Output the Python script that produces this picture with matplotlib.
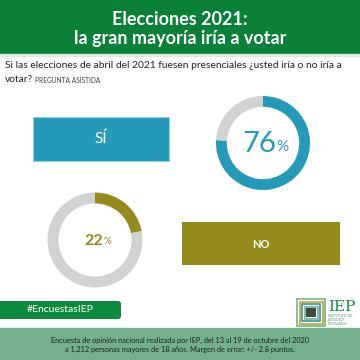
import matplotlib
matplotlib.use("Agg")
import matplotlib.pyplot as plt
from matplotlib.patches import Rectangle, FancyBboxPatch

# data
labels = ["SÍ", "NO"]
values = [76, 22]
title = "Elecciones 2021:\nla gran mayoría iría a votar"
question = "Si las elecciones de abril del 2021 fuesen presenciales ¿usted iría o no iría a"
question2 = "votar?"
note = "PREGUNTA ASISTIDA"
hashtag = "#EncuestasIEP"
footer = ("Encuesta de opinión nacional realizada por IEP, del 13 al 19 de octubre del 2020\n"
          "a 1,212 personas mayores de 18 años. Margen de error: +/- 2.8 puntos.")

plt.rcParams['font.family'] = ['Lato', 'DejaVu Sans']

W = H = 360
fig = plt.figure(figsize=(3.6, 3.6), dpi=100)
fig.patch.set_facecolor("white")
ax = fig.add_axes([0, 0, 1, 1])
ax.set_xlim(0, W)
ax.set_ylim(H, 0)
ax.axis("off")

green = "#0a8038"
blue = "#2599b8"
olive = "#958a1c"
grey = "#d2d2d2"

# header
ax.add_patch(Rectangle((0, 0), W, 54, color=green))
ax.add_patch(Rectangle((0, 54), W, 2, color="#dfe9e2"))
ax.text(180, 29, title, ha="center", va="center", color="white",
        fontsize=13, fontweight="bold", linespacing=1.2)

# question
ax.text(5, 66, question, ha="left", va="center", fontsize=7.35, color="#222222")
ax.text(5, 80, question2, ha="left", va="center", fontsize=7.35, color="#222222")
ax.text(35, 80.5, note, ha="left", va="center", fontsize=4.8, color="#444444")

# label boxes
ax.add_patch(Rectangle((33, 117), 136, 44, facecolor=blue, edgecolor="#8fd0e0", lw=0.8))
ax.text(101, 139, labels[0], ha="center", va="center", color="white", fontsize=11)
ax.add_patch(Rectangle((182, 222), 158, 43, facecolor=olive, edgecolor="none"))
ax.text(261, 244, labels[1], ha="center", va="center", color="white",
        fontsize=8, fontweight="bold")

# rings
rings = [(263, 143, 47, blue, values[0]), (95, 240, 47.5, olive, values[1])]
for cx, cy, r, col, v in rings:
    rax = fig.add_axes([(cx - r) / W, (H - cy - r) / H, 2 * r / W, 2 * r / H])
    rax.pie([v, 100 - v], colors=[col, grey], startangle=90, counterclock=False,
            wedgeprops=dict(width=0.23, linewidth=0))
    rax.set_xlim(-1, 1)
    rax.set_ylim(-1, 1)
    rax.set_aspect("equal")

ax.text(276, 144, str(values[0]), ha="right", va="center", color=blue, fontsize=21)
ax.text(276, 147, "%", ha="left", va="center", color=blue, fontsize=11)
ax.text(103, 241, str(values[1]), ha="right", va="center", color=olive,
        fontsize=11.5, fontweight="bold")
ax.text(103.5, 242, "%", ha="left", va="center", color=olive, fontsize=7)

# hashtag
ax.add_patch(FancyBboxPatch((-10, 301), 131, 18, boxstyle="round,pad=0,rounding_size=3",
                            facecolor="#0c8a3d", edgecolor="none"))
ax.text(60, 310, hashtag, ha="center", va="center", color="white", fontsize=7.5)

# logo
for i, c in enumerate(["#75b08a", "#c9a227", "#2599b8", "#75b08a", "#c9a227"]):
    d = i * 2.5
    ax.add_patch(Rectangle((297 + d, 299 + d), 28 - 2 * d, 27 - 2 * d,
                           facecolor="none", edgecolor=c, lw=1.2))
ax.add_patch(Rectangle((306, 308), 10, 9, facecolor="#444444", edgecolor="none"))
ax.text(328, 307, "IEP", ha="left", va="center", color="#0c8a3d", fontsize=11,
        family="DejaVu Serif")
ax.text(328, 320, "INSTITUTO DE\nESTUDIOS\nPERUANOS", ha="left", va="center",
        color="#5a9a6a", fontsize=2.6, linespacing=1.1)

# footer
ax.add_patch(Rectangle((0, 328), W, 32, color="#75b08c"))
ax.text(180, 345, footer, ha="center", va="center", color="#1a241d",
        fontsize=5.3, linespacing=1.45)

fig.savefig("out.png", dpi=100)
